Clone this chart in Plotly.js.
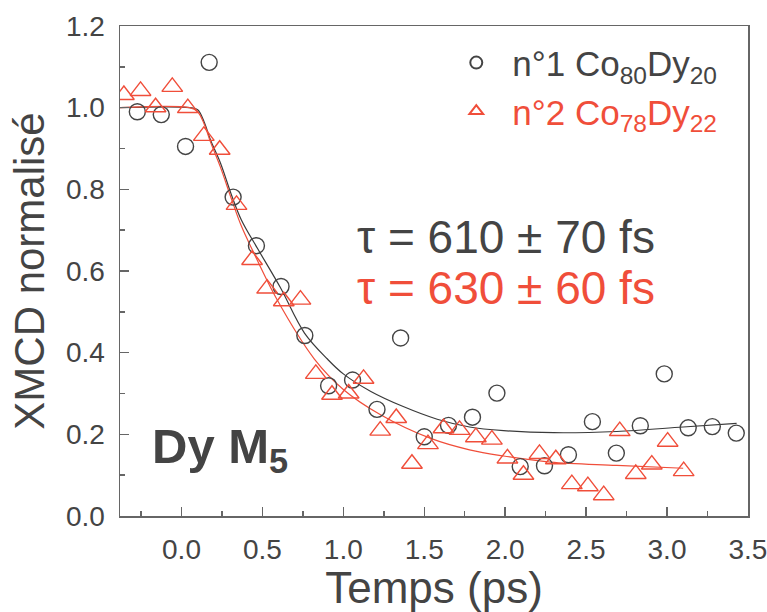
<!DOCTYPE html>
<html>
<head>
<meta charset="utf-8">
<script src="https://cdn.plot.ly/plotly-3.0.1.min.js"></script>
<style>html,body{margin:0;padding:0;background:#fff;}#chart{width:767px;height:612px;}</style>
</head>
<body>
<div id="chart"></div>
<script>
// Sample n°1 Co80Dy20 (circles)
var circT = [-0.273, -0.125, 0.025, 0.171, 0.319, 0.463, 0.615, 0.762, 0.909, 1.057, 1.208, 1.354, 1.500, 1.650, 1.798, 1.949, 2.093, 2.243, 2.391, 2.539, 2.687, 2.835, 2.983, 3.131, 3.280, 3.428];
var circY = [0.990, 0.983, 0.905, 1.111, 0.781, 0.662, 0.562, 0.442, 0.319, 0.333, 0.261, 0.436, 0.194, 0.222, 0.242, 0.301, 0.121, 0.123, 0.150, 0.231, 0.154, 0.221, 0.348, 0.216, 0.219, 0.203];
// Sample n°2 Co78Dy22 (triangles)
var triT = [-0.356, -0.253, -0.160, -0.057, 0.039, 0.138, 0.236, 0.340, 0.436, 0.529, 0.632, 0.735, 0.830, 0.930, 1.033, 1.125, 1.228, 1.327, 1.424, 1.523, 1.619, 1.718, 1.819, 1.918, 2.014, 2.113, 2.212, 2.313, 2.412, 2.511, 2.609, 2.708, 2.807, 2.906, 3.004, 3.103];
var triY = [1.031, 1.041, 1.001, 1.051, 0.999, 0.931, 0.897, 0.762, 0.627, 0.557, 0.526, 0.530, 0.348, 0.297, 0.300, 0.336, 0.209, 0.240, 0.128, 0.176, 0.215, 0.211, 0.193, 0.187, 0.141, 0.101, 0.152, 0.139, 0.078, 0.073, 0.051, 0.208, 0.103, 0.126, 0.182, 0.110];
// Fit curves
var fit1T = [-0.38, 0.05, 0.10, 0.14, 0.18, 0.24, 0.31, 0.37, 0.47, 0.61, 0.76, 0.90, 1.00, 1.17, 1.37, 1.58, 1.78, 1.99, 2.30, 2.69, 3.10, 3.43];
var fit1Y = [1.0, 1.0, 0.995, 0.965, 0.92, 0.865, 0.785, 0.725, 0.655, 0.56, 0.448, 0.385, 0.348, 0.305, 0.268, 0.237, 0.218, 0.209, 0.204, 0.207, 0.218, 0.227];
var fit2T = [-0.38, 0.05, 0.10, 0.14, 0.18, 0.24, 0.31, 0.37, 0.44, 0.59, 0.82, 1.00, 1.23, 1.54, 1.78, 1.99, 2.28, 2.69, 3.10];
var fit2Y = [1.0, 1.0, 0.99, 0.96, 0.915, 0.855, 0.775, 0.71, 0.65, 0.53, 0.385, 0.31, 0.248, 0.19, 0.162, 0.147, 0.132, 0.124, 0.117];
var xTicks = [0, 0.5, 1.0, 1.5, 2.0, 2.5, 3.0, 3.5];
var yTicks = [0, 0.2, 0.4, 0.6, 0.8, 1.0, 1.2];

var GRAY = '#444444';
var RED = '#f04e3a';
var FONT = 'Liberation Sans, Arial, sans-serif';

var traces = [
  {x: fit1T, y: fit1Y, mode: 'lines', line: {color: '#3a3a3a', width: 1.2, shape: 'spline'}, showlegend: false, hoverinfo: 'skip'},
  {x: fit2T, y: fit2Y, mode: 'lines', line: {color: RED, width: 1.2, shape: 'spline'}, showlegend: false, hoverinfo: 'skip'},
  {x: circT, y: circY, mode: 'markers', name: '<span style="color:' + GRAY + '">n°1 Co<sub>80</sub>Dy<sub>20</sub></span>',
   marker: {symbol: 'circle-open', size: 16, color: GRAY, line: {width: 1.4, color: GRAY}}},
  {x: triT, y: triY, mode: 'markers', name: '<span style="color:' + RED + '">n°2 Co<sub>78</sub>Dy<sub>22</sub></span>',
   marker: {symbol: 'triangle-up-open', size: 18, color: RED, line: {width: 1.4, color: RED}}}
];

var axisCommon = {
  showline: true, linecolor: '#666', linewidth: 1.5, mirror: true,
  ticks: 'inside', ticklen: 9, tickwidth: 1.5, tickcolor: '#666',
  showgrid: false, zeroline: false,
  tickfont: {family: FONT, size: 28, color: GRAY},
  tickformat: '.1f',
  ticklabeloverflow: 'allow'
};

var layout = {
  width: 767, height: 612,
  margin: {l: 120, r: 19, t: 26, b: 96},
  paper_bgcolor: '#fff', plot_bgcolor: '#fff',
  font: {family: FONT, color: GRAY},
  xaxis: Object.assign({}, axisCommon, {
    range: [-0.38, 3.5005], tickvals: xTicks,
    minor: {dtick: 0.25, tick0: 0, ticks: 'inside', ticklen: 5, tickwidth: 1.5, tickcolor: '#666'},
    ticklabelstandoff: 8,
    title: {text: 'Temps (ps)', font: {family: FONT, size: 44, color: GRAY}, standoff: 6}
  }),
  yaxis: Object.assign({}, axisCommon, {
    range: [0, 1.2], tickvals: yTicks,
    minor: {dtick: 0.1, tick0: 0, ticks: 'inside', ticklen: 5, tickwidth: 1.5, tickcolor: '#666'},
    ticklabelstandoff: 8,
    title: {text: 'XMCD normalisé', font: {family: FONT, size: 42, color: GRAY}, standoff: 8}
  }),
  showlegend: true,
  legend: {
    x: 0.51, y: 0.985, xanchor: 'left', yanchor: 'top',
    bgcolor: 'rgba(0,0,0,0)', borderwidth: 0,
    font: {family: FONT, size: 35, color: GRAY},
    itemsizing: 'constant', itemwidth: 62, tracegroupgap: 0
  },
  annotations: [
    {xref: 'x', yref: 'y', x: 1.07, y: 0.684, xanchor: 'left', yanchor: 'middle', showarrow: false,
     text: 'τ = 610 ± 70 fs', font: {family: FONT, size: 46, color: GRAY}},
    {xref: 'x', yref: 'y', x: 1.07, y: 0.559, xanchor: 'left', yanchor: 'middle', showarrow: false,
     text: 'τ = 630 ± 60 fs', font: {family: FONT, size: 46, color: RED}},
    {xref: 'x', yref: 'y', x: -0.195, y: 0.162, xanchor: 'left', yanchor: 'middle', showarrow: false,
     text: '<b>Dy M<sub>5</sub></b>', font: {family: FONT, size: 49, color: GRAY}}
  ]
};

Plotly.newPlot('chart', traces, layout, {displayModeBar: false, staticPlot: true});
</script>
</body>
</html>
